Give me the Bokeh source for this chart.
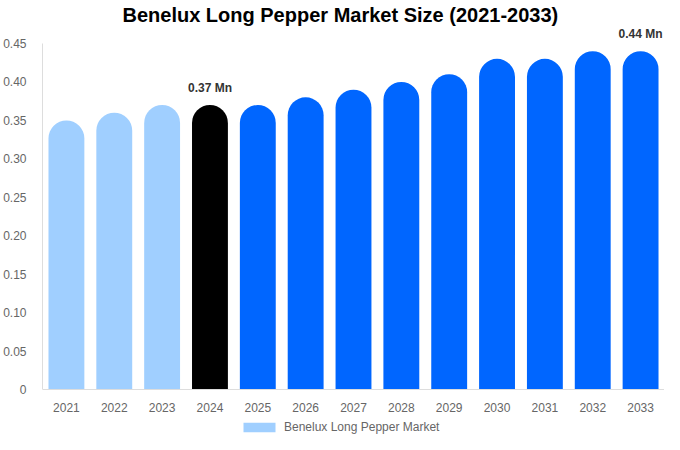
from bokeh.core.properties import value
from bokeh.embed import file_html
from bokeh.models import (ColumnDataSource, CustomJSTickFormatter, FixedTicker,
                          Legend, LegendItem, Range1d)
from bokeh.plotting import figure
from bokeh.resources import INLINE

# --- data ---
years = ["2021", "2022", "2023", "2024", "2025", "2026", "2027",
         "2028", "2029", "2030", "2031", "2032", "2033"]
market_size = [0.35, 0.36, 0.37, 0.37, 0.37, 0.38, 0.39,
               0.40, 0.41, 0.43, 0.43, 0.44, 0.44]
y_ticks = [0, 0.05, 0.10, 0.15, 0.20, 0.25, 0.30, 0.35, 0.40, 0.45]
label_years = ["2024", "2033"]
label_values = [0.37, 0.44]
label_texts = ["0.37 Mn", "0.44 Mn"]

FONT = "Liberation Sans"
HIST = "#a0cfff"
BASE = "#000000"
FCST = "#0066ff"


def bar_color(year):
    if int(year) < 2024:
        return HIST
    if year == "2024":
        return BASE
    return FCST


src = ColumnDataSource(dict(
    year=years,
    size=market_size,
    color=[bar_color(y) for y in years],
))
lbl_src = ColumnDataSource(dict(year=label_years, size=label_values, text=label_texts))

# --- figure ---
# the frame reaches down to the canvas edge so the x axis (pinned at 0)
# and the legend can sit inside it
p = figure(
    x_range=years,
    y_range=Range1d(-0.0585, 0.4721),
    width=664,
    height=434,
    output_backend="svg",
    toolbar_location=None,
    min_border=0,
    min_border_left=30,
    min_border_right=0,
    min_border_top=0,
    min_border_bottom=0,
)
p.outline_line_color = None
p.grid.visible = False

p.title.text = "Benelux Long Pepper Market Size (2021-2033)"
p.title.align = "left"
p.title.offset = 80
p.title.standoff = 2
p.title.text_font = FONT
p.title.text_font_size = "20px"
p.title.text_font_style = "bold"
p.title.text_color = "#000000"

for ax in (p.xaxis, p.yaxis):
    ax.axis_line_color = "#dddddd"
    ax.major_tick_line_color = None
    ax.minor_tick_line_color = None
    ax.major_label_text_font = FONT
    ax.major_label_text_font_size = "12px"
    ax.major_label_text_color = "#666666"
    ax.major_label_standoff = 10
p.xaxis.major_label_standoff = 7
p.xaxis.fixed_location = 0
p.xaxis.axis_label_standoff = 0

p.yaxis.bounds = (y_ticks[0], y_ticks[-1])
p.yaxis.ticker = FixedTicker(ticks=y_ticks)
p.yaxis.formatter = CustomJSTickFormatter(
    code="return tick == 0 ? '0' : tick.toFixed(2);")

# bars with rounded tops
bars = p.vbar(
    x="year", top="size", width=0.75, source=src,
    fill_color="color", line_color=None,
    border_radius=(18, 18, 0, 0),
)

# value labels
p.text(
    x="year", y="size", text="text", source=lbl_src,
    text_align="center", text_baseline="bottom", y_offset=-10,
    text_font=value(FONT), text_font_size="12px", text_font_style="bold",
    text_color="#333333",
)

legend = Legend(
    items=[LegendItem(label="Benelux Long Pepper Market", renderers=[bars], index=0)],
    orientation="horizontal",
    location=(197, 0),
    glyph_width=40,
    glyph_height=12,
    label_text_font=FONT,
    label_text_font_size="12px",
    label_text_color="#666666",
    border_line_color=None,
    background_fill_alpha=0,
    padding=0,
    margin=0,
)
p.add_layout(legend)

open("out.html", "w").write(file_html(p, INLINE))
